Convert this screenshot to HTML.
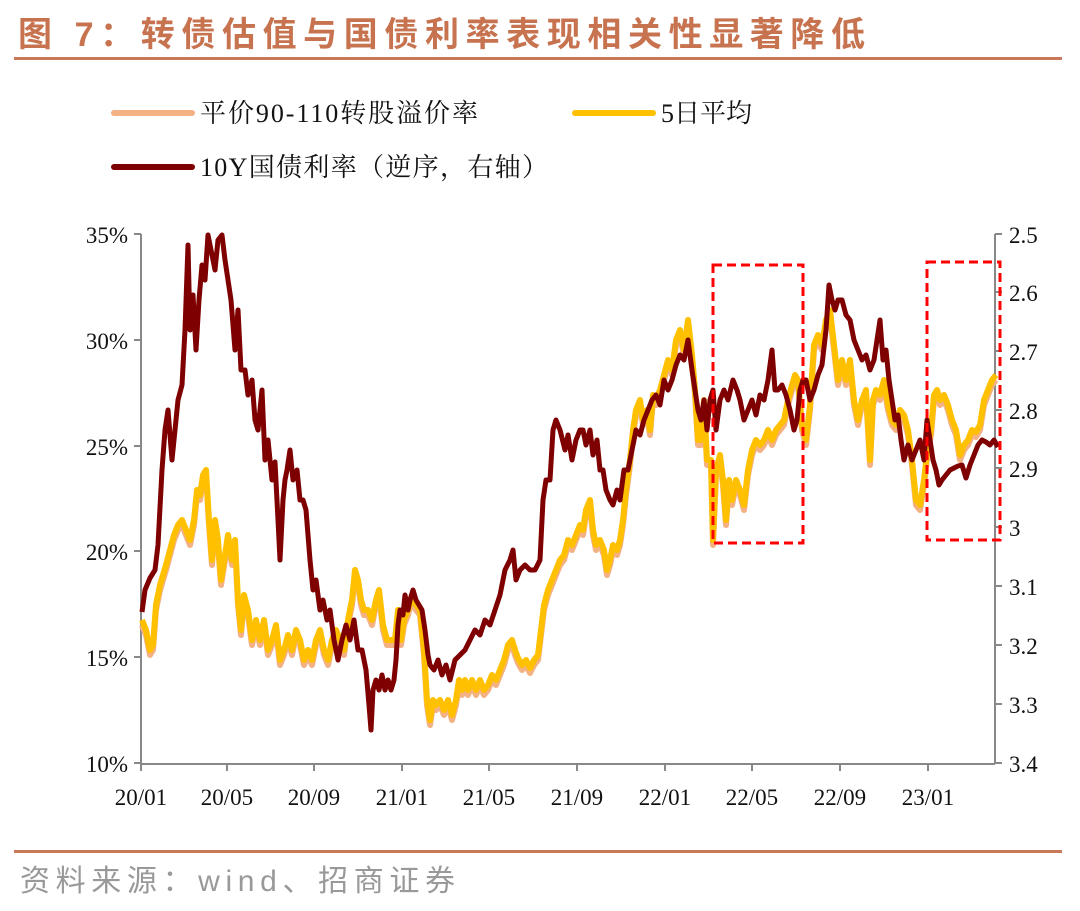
<!DOCTYPE html>
<html><head><meta charset="utf-8"><style>
body{margin:0;background:#fff;width:1080px;height:906px;overflow:hidden;font-family:"Liberation Serif","Noto Serif CJK SC",serif}
</style></head><body>
<svg width="1080" height="906" xmlns="http://www.w3.org/2000/svg">
<text x="18" y="46" font-size="34" font-weight="bold" fill="#C7734F" font-family="'Liberation Sans','Noto Sans CJK SC',sans-serif" textLength="847">图 7：转债估值与国债利率表现相关性显著降低</text>
<rect x="14" y="57" width="1048" height="3" fill="#C9785A"/>
<line x1="114" y1="113" x2="192" y2="113" stroke="#F4B183" stroke-width="6" stroke-linecap="round"/>
<text x="200" y="122" font-size="26" fill="#111" textLength="278">平价90-110转股溢价率</text>
<line x1="575" y1="113" x2="653" y2="113" stroke="#FFC000" stroke-width="6" stroke-linecap="round"/>
<text x="661" y="122" font-size="26" fill="#111">5日平均</text>
<line x1="114" y1="167" x2="192" y2="167" stroke="#7F0000" stroke-width="6" stroke-linecap="round"/>
<text x="200" y="176" font-size="26" fill="#111" textLength="348">10Y国债利率（逆序，右轴）</text>
<g stroke="#888" stroke-width="2" fill="none">
<line x1="141" y1="234" x2="141" y2="764"/>
<line x1="995" y1="234" x2="995" y2="764"/>
<line x1="141" y1="764" x2="995" y2="764"/>
<path d="M134 234h7M134 340h7M134 446h7M134 551h7M134 657h7M134 763h7"/>
<path d="M995 234h7M995 292h7M995 351h7M995 410h7M995 468h7M995 527h7M995 586h7M995 645h7M995 704h7M995 763h7"/>
<path d="M141 764v7M227 764v7M314 764v7M402 764v7M489 764v7M577 764v7M665 764v7M752 764v7M840 764v7M928 764v7"/>
</g>
<g font-size="23" fill="#111" text-anchor="end">
<text x="128" y="243">35%</text><text x="128" y="349">30%</text><text x="128" y="455">25%</text><text x="128" y="560">20%</text><text x="128" y="666">15%</text><text x="128" y="772">10%</text>
</g>
<g font-size="23" fill="#111">
<text x="1009" y="243">2.5</text><text x="1009" y="301">2.6</text><text x="1009" y="360">2.7</text><text x="1009" y="419">2.8</text><text x="1009" y="477">2.9</text><text x="1009" y="536">3</text><text x="1009" y="595">3.1</text><text x="1009" y="654">3.2</text><text x="1009" y="713">3.3</text><text x="1009" y="772">3.4</text>
</g>
<g font-size="23" fill="#111" text-anchor="middle">
<text x="141" y="805">20/01</text><text x="227" y="805">20/05</text><text x="314" y="805">20/09</text><text x="402" y="805">21/01</text><text x="489" y="805">21/05</text><text x="577" y="805">21/09</text><text x="665" y="805">22/01</text><text x="752" y="805">22/05</text><text x="840" y="805">22/09</text><text x="928" y="805">23/01</text>
</g>
<defs><polyline id="y" points="142,620 146,630 150,650 153,645 156,605 160,585 163,575 166,565 170,550 174,535 178,525 182,520 186,530 190,540 194,520 197,490 200,495 203,475 206,470 209,520 212,560 215,520 218,540 221,580 225,555 228,535 232,560 235,540 238,600 241,630 244,595 248,610 252,640 256,620 260,640 264,620 268,650 272,640 276,625 280,660 284,650 288,635 292,650 296,630 300,640 304,660 308,650 312,660 316,640 320,630 324,650 328,660 332,640 336,630 340,640 344,650 348,620 352,600 355,570 358,580 361,600 364,610 368,610 372,620 376,600 379,590 383,625 387,640 391,640 395,640 398,610 401,640 404,620 408,610 412,595 416,605 420,610 424,650 427,700 430,720 433,700 436,705 440,700 444,710 448,700 452,715 456,700 459,680 462,690 465,680 468,690 472,680 476,690 480,680 484,690 488,685 492,675 496,680 500,670 504,660 508,645 512,640 515,650 518,658 522,665 526,660 530,668 534,660 538,655 541,630 544,605 548,590 552,580 556,570 560,560 564,555 568,540 572,545 576,535 580,525 583,530 586,510 590,500 593,530 596,545 600,540 604,550 607,570 610,560 613,545 617,550 620,540 623,520 626,490 630,460 633,430 636,410 640,400 643,420 647,410 650,430 653,395 656,400 660,390 664,375 668,360 672,370 676,340 680,330 684,350 688,320 692,355 695,390 698,440 701,440 704,400 707,460 711,460 713,540 716,470 720,455 723,480 726,520 729,480 732,500 736,480 740,490 744,505 748,470 752,450 756,440 760,445 764,440 768,430 772,440 776,430 780,425 784,420 788,400 792,385 795,375 798,380 802,425 806,440 810,405 814,345 818,335 822,345 826,320 830,310 834,345 838,380 842,360 846,380 850,360 854,400 858,420 862,400 866,390 870,460 873,400 876,390 880,395 884,380 888,405 892,420 896,425 900,410 904,415 908,430 912,460 916,500 920,505 924,480 928,445 931,430 934,395 937,390 940,400 944,395 948,405 952,420 956,430 960,455 964,445 968,440 972,430 976,432 980,425 984,400 988,390 992,380 996,375"/></defs>
<use href="#y" transform="translate(0,5)" stroke="#F4B183" stroke-width="6" fill="none" stroke-linejoin="round"/>
<use href="#y" stroke="#FFC000" stroke-width="6" fill="none" stroke-linejoin="round"/>
<polyline fill="none" stroke="#7F0000" stroke-width="5" stroke-linejoin="round" points="142,612 145,590 150,578 155,570 158,545 162,470 165,430 168,410 172,460 175,430 178,400 182,385 185,330 188,245 190,330 193,295 196,350 199,300 202,265 205,280 208,235 212,255 215,270 218,240 222,235 225,260 228,280 231,300 235,350 238,310 241,370 245,370 248,395 252,380 255,420 258,430 262,390 265,460 268,440 272,480 275,462 278,520 280,560 283,500 285,480 287,470 290,450 293,480 297,470 300,500 303,500 306,510 310,560 313,590 316,580 320,610 323,600 327,620 330,610 334,640 338,660 342,640 346,625 350,640 354,620 358,650 362,650 366,670 369,705 371,730 373,690 376,680 379,690 382,675 385,690 388,680 391,690 394,680 396,660 398,625 400,610 403,615 405,595 408,610 410,600 413,590 416,600 419,605 422,610 425,630 428,655 430,665 434,670 438,660 442,675 446,665 450,680 455,660 460,655 465,650 470,640 475,630 480,635 485,620 490,625 495,610 500,595 505,570 510,560 513,550 516,580 520,570 525,565 530,570 535,570 540,560 543,500 546,480 550,480 553,430 556,420 560,430 565,450 568,435 572,460 576,440 580,430 583,430 586,445 590,430 593,455 597,440 600,470 603,470 606,490 610,500 613,505 617,490 620,500 624,470 628,470 632,450 636,430 640,435 644,420 648,410 652,400 656,395 660,405 664,380 668,390 672,380 676,365 680,355 684,360 688,340 692,370 695,390 698,410 701,420 704,400 707,430 710,400 713,390 716,430 720,400 724,390 728,400 733,380 737,390 740,400 744,420 748,410 752,400 756,415 760,395 764,400 768,380 772,350 775,390 778,390 782,385 786,395 790,410 794,430 797,420 800,390 803,380 806,380 810,400 814,390 818,375 822,365 826,330 829,285 832,300 835,310 838,300 842,300 846,315 850,320 854,340 858,350 862,360 866,355 870,370 874,360 877,340 880,320 883,360 886,350 889,380 892,400 895,420 898,415 901,440 904,460 908,445 912,460 916,450 920,440 924,460 927,420 930,440 933,460 936,470 939,485 942,480 946,475 950,470 954,468 958,466 962,465 966,478 970,465 974,455 978,445 982,440 986,442 990,445 994,440 998,447"/>
<g fill="none" stroke="#FF0000" stroke-width="3" stroke-dasharray="9,5">
<rect x="713" y="265" width="90" height="278"/>
<rect x="927" y="262" width="73" height="278"/>
</g>
<rect x="14" y="850" width="1048" height="3" fill="#C9785A"/>
<text x="20" y="891" font-size="30" fill="#999" font-family="'Liberation Sans','Noto Sans CJK SC',sans-serif" textLength="435">资料来源：wind、招商证券</text>
</svg>
</body></html>
